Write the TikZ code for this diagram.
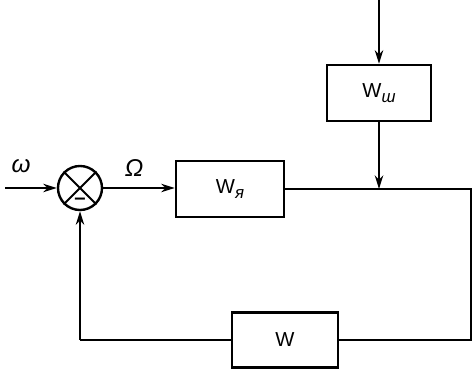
\documentclass[tikz,border=0pt]{standalone}
\usepackage{fontspec}
\setmainfont{Liberation Sans}
\usepackage{tikz}
\usetikzlibrary{arrows.meta,positioning}

\begin{document}
\begin{tikzpicture}[
      x=0.025cm,y=-0.025cm,
      line width=1.5pt,
      block/.style={draw,line width=1.7pt,minimum width=2.7cm,minimum height=1.4cm,inner sep=0pt,font=\Large},
      summer/.style={circle,draw,line width=1.7pt,minimum size=1.1cm,inner sep=0pt},
      arrow/.style={-{Stealth[length=3.4mm,width=2.1mm]}},
      lbl/.style={font=\LARGE\itshape}
    ]
    \useasboundingbox (0,0) rectangle (473,372);
    % summing junction
    \node[summer] (sum) at (80,188) {};
    \draw[line width=1.5pt] (sum.north west) -- (sum.south east)
      (sum.north east) -- (sum.south west);
    \node[font=\Large] (minus) at (80,201) {\bfseries --};
    % blocks
    \node[block] (wya) at (230,189) {W\raisebox{-0.5ex}{\large\itshape я}};
    \node[block,minimum width=2.6cm] (wsh) at (379,93) {W\raisebox{-0.5ex}{\large\itshape ш}};
    \node[block,minimum width=2.65cm,minimum height=1.375cm] (w) at (285,340) {W};
    \coordinate (in) at (5,188);
    \coordinate (top) at (379,0);
    \coordinate (out) at (471,189);
    \coordinate (join) at (379,189);
    \coordinate (fbr) at (471,340);
    \coordinate (fbl) at (80,340);
    \node[lbl] (omega) at (21,166) {ω};
    \node[lbl] (Omega) at (134,168) {Ω};

    \draw[arrow] (in) -- (sum.west);
    \draw[arrow] (sum.east) -- (sum.east -| wya.west);
    \draw[arrow] (top) -- (wsh.north);
    \draw[arrow] (wsh.south) -- (join);
    \draw (wya.east) -- (out) -- (fbr) -- (w.east);
    \draw (w.west) -- (fbl);
    \draw[arrow] (fbl) -- (sum.south);
  \end{tikzpicture}
\end{document}
